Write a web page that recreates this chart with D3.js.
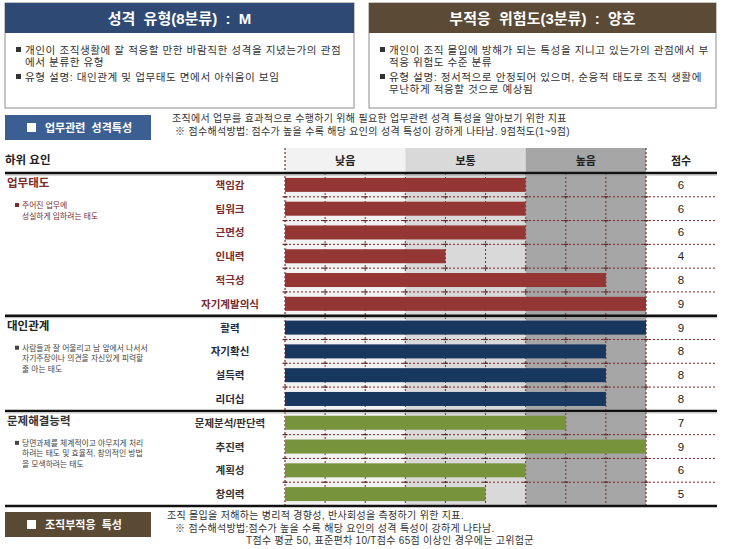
<!DOCTYPE html>
<html>
<head>
<meta charset="utf-8">
<script src="https://cdn.jsdelivr.net/npm/d3@7"></script>
<style>
  body { margin: 0; background: #fff; }
  svg { display: block; font-family: "Liberation Sans", "Noto Sans CJK KR", sans-serif; }
</style>
</head>
<body>
<svg width="730" height="549"></svg>
<script>
// ---- data ----
var groups = ['업무태도', '대인관계', '문제해결능력'];
var groupDescs = [
  ['주어진 업무에', '성실하게 임하려는 태도'],
  ['사람들과 잘 어울리고 남 앞에서 나서서', '자기주장이나 의견을 자신있게 피력할', '줄 아는 태도'],
  ['당면과제를 체계적이고 야무지게 처리', '하려는 태도 및 효율적, 창의적인 방법', '을 모색하려는 태도']
];
var factors = ['책임감', '팀워크', '근면성', '인내력', '적극성', '자기계발의식',
  '활력', '자기확신', '설득력', '리더십',
  '문제분석/판단력', '추진력', '계획성', '창의력'];
var factorGroup = [0, 0, 0, 0, 0, 0, 1, 1, 1, 1, 2, 2, 2, 2];
var scores = [6, 6, 6, 4, 8, 9, 9, 8, 8, 8, 7, 9, 6, 5];
var levels = ['낮음', '보통', '높음'];
var levelStops = [0, 3, 6, 9];

var typeTitle = '성격 유형(8분류) : M';
var typeLines = [['개인이 조직생활에 잘 적응할 만한 바람직한 성격을 지녔는가의 관점', '에서 분류한 유형'],
  ['유형 설명: 대인관계 및 업무태도 면에서 아쉬움이 보임']];
var riskTitle = '부적응 위험도(3분류) : 양호';
var riskLines = [['개인이 조직 몰입에 방해가 되는 특성을 지니고 있는가의 관점에서 부', '적응 위험도 수준 분류'],
  ['유형 설명: 정서적으로 안정되어 있으며, 순응적 태도로 조직 생활에', '무난하게 적응할 것으로 예상됨']];

var sec1Title = '업무관련 성격특성';
var sec1Lines = ['조직에서 업무를 효과적으로 수행하기 위해 필요한 업무관련 성격 특성을 알아보기 위한 지표',
  '※ 점수해석방법: 점수가 높을 수록 해당 요인의 성격 특성이 강하게 나타남. 9점척도(1~9점)'];
var sec2Title = '조직부적응 특성';
var sec2Lines = ['조직 몰입을 저해하는 병리적 경향성, 반사회성을 측정하기 위한 지표.',
  '※ 점수해석방법:점수가 높을 수록 해당 요인의 성격 특성이 강하게 나타남.',
  'T점수 평균 50, 표준편차 10/T점수 65점 이상인 경우에는 고위험군'];

// ---- style ----
var barColors = ['#943634', '#17375e', '#77933c'];
var labelColors = ['#7a2b2b', '#1f2b40', '#333'];
var titleColors = ['#7a2b2b', '#222', '#333'];
var descColors = ['#7a2b2b', '#444', '#444'];
var bandColors = ['#f2f2f2', '#d9d9d9', '#a6a6a6'];
var gridColor = '#7a2a2a';

var svg = d3.select('svg');

var xScale = d3.scaleLinear().domain([0, 9]).range([285, 646]);
var yScale = d3.scaleBand().domain(factors).range([173, 506]);
var headTop = 148, scoreRight = 717, leftX = 5;

// ---- top boxes ----
function topBox(x, w, title, lines, color) {
  var g = svg.append('g');
  g.append('rect').attr('x', x).attr('y', 3).attr('width', w).attr('height', 105)
    .attr('fill', '#fff').attr('stroke', '#a0a0a0').attr('stroke-width', 1.2);
  g.append('rect').attr('x', x).attr('y', 3).attr('width', w).attr('height', 30).attr('fill', color);
  g.append('text').attr('x', x + w / 2).attr('y', 24).attr('text-anchor', 'middle')
    .attr('fill', '#fff').attr('font-size', '15px').attr('font-weight', 'bold')
    .attr('xml:space', 'preserve').text(title.replace(' ', '  ').replace(' : ', '  :  '));
  var y = 54;
  lines.forEach(function(par) {
    par.forEach(function(line, i) {
      if (i === 0) {
        g.append('rect').attr('x', x + 11).attr('y', y - 7).attr('width', 5).attr('height', 5).attr('fill', '#333');
      }
      g.append('text').attr('x', x + 20).attr('y', y).attr('font-size', '10.6px')
        .attr('letter-spacing', '0.55px').attr('fill', '#333').text(line);
      y += 12;
    });
    y += 3;
  });
}
topBox(5, 349, typeTitle, typeLines, '#2e4a74');
topBox(369, 347, riskTitle, riskLines, '#5a4a36');

// ---- section headers ----
function sectionBox(y, title, lines, color, lineX) {
  svg.append('rect').attr('x', 5).attr('y', y).attr('width', 146).attr('height', 25).attr('fill', color);
  svg.append('rect').attr('x', 27).attr('y', y + 8).attr('width', 9).attr('height', 9).attr('fill', '#fff');
  svg.append('text').attr('x', 45).attr('y', y + 16.5).attr('font-size', '11px').attr('font-weight', 'bold')
    .attr('fill', '#fff').attr('xml:space', 'preserve').text(title.replace(/(관련|부적응) /, '$1  '));
  lines.forEach(function(line, i) {
    svg.append('text').attr('x', lineX[i]).attr('y', y + 7 + i * 12.5).attr('font-size', '10px')
      .attr('letter-spacing', '0.3px').attr('fill', '#333').text(line);
  });
}
sectionBox(115, sec1Title, sec1Lines, '#3c5f93', [172, 175]);
sectionBox(512, sec2Title, sec2Lines, '#5b4a33', [167, 175, 246]);

// ---- chart background bands ----
levels.forEach(function(lv, i) {
  svg.append('rect').attr('x', xScale(levelStops[i])).attr('y', headTop)
    .attr('width', xScale(levelStops[i + 1]) - xScale(levelStops[i]))
    .attr('height', 506 - headTop).attr('fill', bandColors[i]);
  svg.append('text').attr('x', (xScale(levelStops[i]) + xScale(levelStops[i + 1])) / 2).attr('y', 165)
    .attr('text-anchor', 'middle').attr('font-size', '11px').attr('font-weight', 'bold').attr('fill', '#222').text(lv);
});
svg.append('text').attr('x', 681).attr('y', 165).attr('text-anchor', 'middle')
  .attr('font-size', '11px').attr('font-weight', 'bold').attr('fill', '#222').text('점수');
svg.append('text').attr('x', leftX).attr('y', 164).attr('font-size', '11.5px').attr('font-weight', 'bold')
  .attr('fill', '#222').text('하위 요인');

// ---- grid ----
var grid = svg.append('g');
d3.range(1, 9).forEach(function(k) {
  grid.append('line').attr('x1', xScale(k)).attr('x2', xScale(k)).attr('y1', 173).attr('y2', 506)
    .attr('stroke', gridColor).attr('stroke-width', 1).attr('stroke-dasharray', '2,2');
});
[0, 9].forEach(function(k) {
  grid.append('line').attr('x1', xScale(k)).attr('x2', xScale(k)).attr('y1', headTop).attr('y2', 506)
    .attr('stroke', gridColor).attr('stroke-width', 1.2).attr('stroke-dasharray', '2,2');
});
factors.forEach(function(f, i) {
  if (i === 0 || factorGroup[i] !== factorGroup[i - 1]) return;
  var y = yScale(f);
  grid.append('line').attr('x1', xScale(0)).attr('x2', scoreRight).attr('y1', y).attr('y2', y)
    .attr('stroke', gridColor).attr('stroke-width', 1).attr('stroke-dasharray', '2,2');
  d3.range(0, 10).forEach(function(k) {
    grid.append('line').attr('x1', xScale(k) - 2.5).attr('x2', xScale(k) + 2.5).attr('y1', y).attr('y2', y)
      .attr('stroke', '#5a2a2a').attr('stroke-width', 1.2);
  });
});

// ---- bars ----
svg.append('g').selectAll('rect').data(scores).enter().append('rect')
  .attr('x', xScale(0))
  .attr('y', function(d, i) { return yScale(factors[i]) + (yScale.bandwidth() - 14) / 2; })
  .attr('width', function(d) { return xScale(d) - xScale(0); })
  .attr('height', 14)
  .attr('fill', function(d, i) { return barColors[factorGroup[i]]; });

// ---- factor labels and scores ----
svg.append('g').selectAll('text').data(factors).enter().append('text')
  .attr('x', 230).attr('y', function(d) { return yScale(d) + yScale.bandwidth() / 2 + 4; })
  .attr('text-anchor', 'middle').attr('font-size', '10.5px').attr('font-weight', 'bold')
  .attr('fill', function(d, i) { return labelColors[factorGroup[i]]; }).text(function(d) { return d; });
svg.append('g').selectAll('text').data(scores).enter().append('text')
  .attr('x', 681).attr('y', function(d, i) { return yScale(factors[i]) + yScale.bandwidth() / 2 + 4; })
  .attr('text-anchor', 'middle').attr('font-size', '11.5px').attr('fill', '#222').text(function(d) { return d; });

// ---- groups ----
groups.forEach(function(gname, gi) {
  var first = factors[factorGroup.indexOf(gi)];
  var top = yScale(first);
  svg.append('line').attr('x1', leftX).attr('x2', scoreRight).attr('y1', top).attr('y2', top)
    .attr('stroke', '#111').attr('stroke-width', 2.4);
  svg.append('line').attr('x1', leftX).attr('x2', scoreRight).attr('y1', top + 2).attr('y2', top + 2)
    .attr('stroke', '#999').attr('stroke-width', 0.8);
  svg.append('text').attr('x', 7).attr('y', top + 14).attr('font-size', '11.5px').attr('font-weight', 'bold')
    .attr('fill', titleColors[gi]).text(gname);
  groupDescs[gi].forEach(function(line, li) {
    var y = top + 35 + li * 10.5;
    if (li === 0) {
      svg.append('rect').attr('x', 15).attr('y', y - 5).attr('width', 4).attr('height', 4).attr('fill', descColors[gi]);
    }
    svg.append('text').attr('x', 22).attr('y', y).attr('font-size', '7.8px')
      .attr('fill', descColors[gi]).text(line);
  });
});
svg.append('line').attr('x1', leftX).attr('x2', scoreRight).attr('y1', 506).attr('y2', 506)
  .attr('stroke', '#111').attr('stroke-width', 2.4);
</script>
</body>
</html>
